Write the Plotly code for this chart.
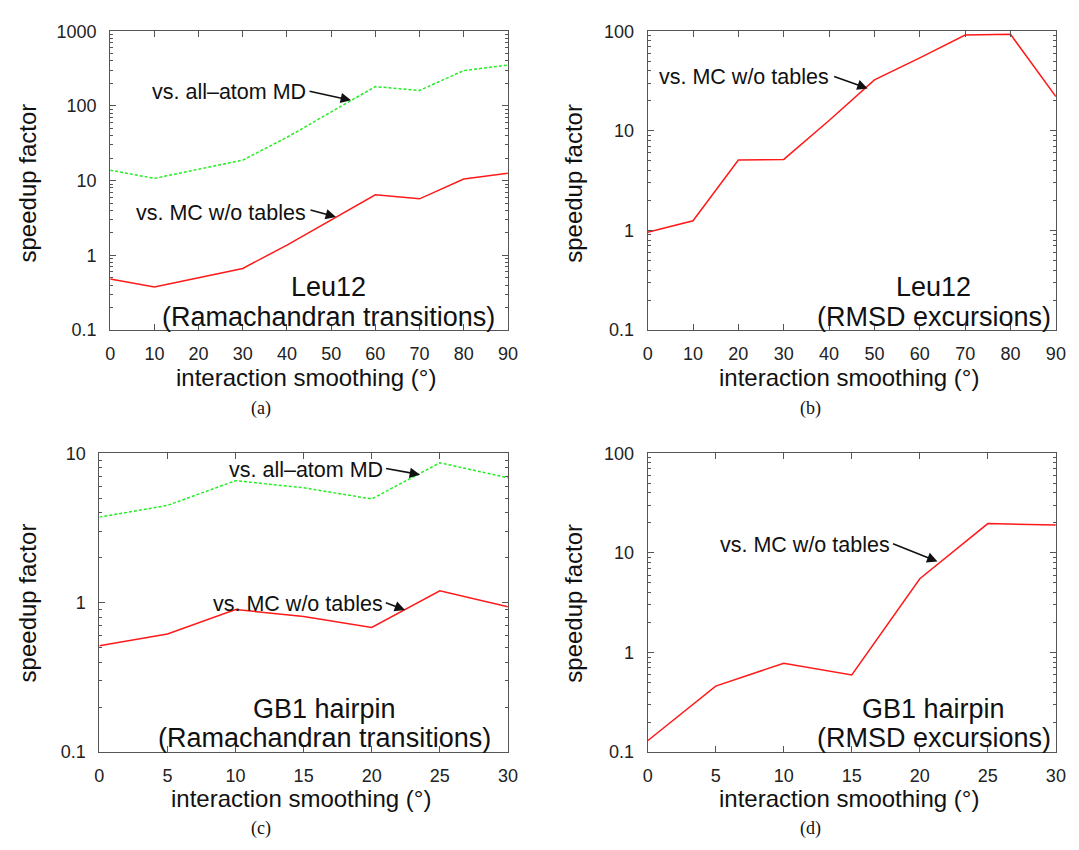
import math
import plotly.graph_objects as go

W, H = 1079, 850

# ---------------- data ----------------
smooth_leu = [0, 10, 20, 30, 40, 50, 60, 70, 80, 90]
smooth_gb1 = [0, 5, 10, 15, 20, 25, 30]

leu_rama_vs_md = [13.8, 10.7, 14.2, 18.8, 38, 82, 181, 161, 297, 352]
leu_rama_vs_mc = [0.48, 0.376, 0.50, 0.667, 1.37, 2.95, 6.44, 5.7, 10.5, 12.5]
leu_rmsd_vs_mc = [0.96, 1.25, 5.08, 5.16, 12.7, 32.4, 54, 91.5, 93, 22]
gb1_rama_vs_md = [3.74, 4.48, 6.56, 5.88, 4.95, 8.64, 6.86]
gb1_rama_vs_mc = [0.515, 0.618, 0.90, 0.81, 0.683, 1.2, 0.94]
gb1_rmsd_vs_mc = [0.13, 0.46, 0.78, 0.595, 5.5, 19.7, 19.1]

leu_xticks = [0, 10, 20, 30, 40, 50, 60, 70, 80, 90]
gb1_xticks = [0, 5, 10, 15, 20, 25, 30]
yticks_a = [0.1, 1, 10, 100, 1000]
yticks_b = [0.1, 1, 10, 100]
yticks_c = [0.1, 1, 10]
yticks_d = [0.1, 1, 10, 100]

y_title = "speedup factor"
x_title = "interaction smoothing (°)"
lbl_md = "vs. all\u2013atom MD"
lbl_mc = "vs. MC w/o tables"

RED = "#ff1a1a"
GREEN = "#22ee22"
AX = "#555555"
SANS = "Liberation Sans"
SERIF = "Liberation Serif"


def px(x):
    return x / W


def py(y):
    return 1 - y / H


def minor_vals(lo, hi):
    out = []
    d = lo
    while d < hi:
        for m in range(2, 10):
            out.append(m * d)
        d *= 10
    return out


fig = go.Figure()

panels = [
    ("x", "y", (106.7, 510.0), (21.7, 327.7), leu_xticks, yticks_a, (0.1, 1000), (0, 90)),
    ("x2", "y2", (651.7, 1065.7), (21.7, 327.7), leu_xticks, yticks_b, (0.1, 100), (0, 90)),
    ("x3", "y3", (95.7, 510.0), (454.0, 760.0), gb1_xticks, yticks_c, (0.1, 10), (0, 30)),
    ("x4", "y4", (651.7, 1065.7), (454.0, 760.0), gb1_xticks, yticks_d, (0.1, 100), (0, 30)),
]

traces = [
    (smooth_leu, leu_rama_vs_md, "x", "y", GREEN, "3px,2px"),
    (smooth_leu, leu_rama_vs_mc, "x", "y", RED, "solid"),
    (smooth_leu, leu_rmsd_vs_mc, "x2", "y2", RED, "solid"),
    (smooth_gb1, gb1_rama_vs_md, "x3", "y3", GREEN, "3px,2px"),
    (smooth_gb1, gb1_rama_vs_mc, "x3", "y3", RED, "solid"),
    (smooth_gb1, gb1_rmsd_vs_mc, "x4", "y4", RED, "solid"),
]
for xs, ys, xa, ya, col, dash in traces:
    fig.add_trace(go.Scatter(x=xs, y=ys, xaxis=xa, yaxis=ya, mode="lines",
                             line=dict(color=col, width=1.5, dash=dash),
                             showlegend=False, hoverinfo="skip"))

layout = {}
for xa, ya, (x0, x1), (y0, y1), xt, yt, yr, xr in panels:
    xkey = "xaxis" + xa[1:]
    ykey = "yaxis" + ya[1:]
    layout[xkey] = dict(
        domain=[px(x0), px(x1)], anchor=ya, range=list(xr),
        tickmode="array", tickvals=xt, ticktext=[str(v) for v in xt],
        ticks="inside", ticklen=6, tickcolor=AX, mirror="allticks",
        showline=True, linecolor=AX, linewidth=1, showgrid=False, zeroline=False,
        tickfont=dict(family=SANS, size=18, color="#222"), ticklabelstandoff=7,
    )
    layout[ykey] = dict(
        domain=[py(y1), py(y0)], anchor=xa, type="log",
        range=[math.log10(yr[0]), math.log10(yr[1])],
        tickmode="array", tickvals=yt, ticktext=[("%g" % v) for v in yt],
        ticks="inside", ticklen=6, tickcolor=AX, mirror="allticks",
        minor=dict(tickmode="array", tickvals=minor_vals(yr[0], yr[1]),
                   ticks="inside", ticklen=3, tickcolor=AX, showgrid=False),
        showline=True, linecolor=AX, linewidth=1, showgrid=False, zeroline=False,
        tickfont=dict(family=SANS, size=18, color="#222"), ticklabelstandoff=9,
    )

ann = []


def text(x, y, s, size, anchor="center", family=SANS, angle=0):
    ann.append(dict(x=px(x), y=py(y), xref="paper", yref="paper", text=s,
                    showarrow=False, xanchor=anchor, yanchor="middle",
                    textangle=angle, font=dict(family=family, size=size, color="#111")))


def arrow(xa, ya, xd, yd, ax, ay):
    ann.append(dict(x=xd, y=math.log10(yd), xref=xa, yref=ya, text="",
                    showarrow=True, ax=ax, ay=ay, axref="pixel", ayref="pixel",
                    arrowhead=2, arrowsize=1.3, arrowwidth=1.6, arrowcolor="#111",
                    standoff=0, startstandoff=0))


# axis titles
for cx, cy in [(23, 177), (577, 177), (23, 607), (577, 607)]:
    text(cx, cy, y_title, 24, angle=-90)
for cx, cy in [(305, 376), (856, 376), (300, 808), (856, 808)]:
    text(cx, cy, x_title, 24)

# captions
text(260, 408, "(a)", 18, family=SERIF)
text(817, 408, "(b)", 18, family=SERIF)
text(260, 838, "(c)", 18, family=SERIF)
text(817, 838, "(d)", 18, family=SERIF)

# panel labels
text(328.5, 284, "Leu12", 27)
text(328.5, 314, "(Ramachandran transitions)", 27)
text(942, 284, "Leu12", 27)
text(942, 314, "(RMSD excursions)", 27)
text(323.5, 716, "GB1 hairpin", 27)
text(323.5, 746, "(Ramachandran transitions)", 27)
text(942, 716, "GB1 hairpin", 27)
text(942, 746, "(RMSD excursions)", 27)

# series labels with arrows
text(307.5, 84, lbl_md, 21.5, anchor="right")
arrow("x", "y", 54.5, 119, -43, -9.4)
text(307.5, 208, lbl_mc, 21.5, anchor="right")
arrow("x", "y", 51.1, 3.25, -27, -7.5)
text(838, 69, lbl_mc, 21.5, anchor="right")
arrow("x2", "y2", 48.5, 26.6, -35, -12.5)
text(385.5, 471, lbl_md, 21.5, anchor="right")
arrow("x3", "y3", 23.55, 7.2, -35.5, -6.4)
text(385.5, 608, lbl_mc, 21.5, anchor="right")
arrow("x3", "y3", 22.45, 0.895, -20.8, -7.6)
text(900, 547.5, lbl_mc, 21.5, anchor="right")
arrow("x4", "y4", 21.3, 8.2, -46, -18.3)

fig.update_layout(
    width=W, height=H, margin=dict(l=0, r=0, t=0, b=0),
    paper_bgcolor="white", plot_bgcolor="white",
    annotations=ann, showlegend=False, **layout,
)

fig.write_html("out.html", config={"displayModeBar": False},
               post_script="document.body.style.margin='0';document.body.style.overflow='hidden';")
